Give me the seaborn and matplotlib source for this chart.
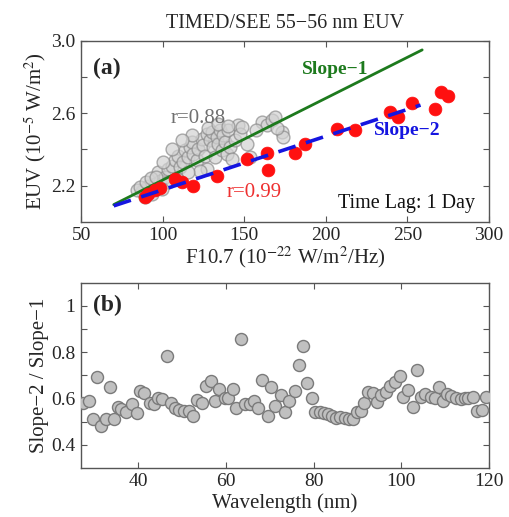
import matplotlib
matplotlib.use("Agg")
import matplotlib.pyplot as plt
import seaborn as sns
import pandas as pd
from matplotlib.ticker import FixedLocator

# ---------------- data: panel (a) ----------------
gray_f107 = [87.2, 91.3, 95.3, 97.4, 98.4, 101.5, 103.5, 105.6, 107.6, 109.6,
             110.7, 112.7, 113.7, 115.8, 116.8, 117.8, 118.8, 120.9, 121.9, 123.9,
             125.0, 126.0, 127.0, 129.0, 130.1, 131.1, 132.1, 133.1, 134.1, 135.2,
             136.2, 137.2, 138.2, 139.2, 140.3, 141.3, 142.3, 144.4, 146.4, 147.4,
             148.4, 151.5, 153.5, 160.7, 163.7, 166.8, 168.9, 172.9, 174.0, 127.0,
             122.9, 115.8, 108.6, 103.5, 93.3, 89.2, 99.4, 84.0, 86.0, 90.0,
             93.0, 96.0, 128.0, 134.0, 140.0, 118.0, 112.0, 106.0, 100.0, 157.0,
             170.0]
gray_euv = [2.172, 2.200, 2.209, 2.274, 2.228, 2.246, 2.292, 2.311, 2.339, 2.366,
            2.302, 2.329, 2.394, 2.357, 2.413, 2.440, 2.376, 2.339, 2.403, 2.459,
            2.422, 2.366, 2.487, 2.450, 2.496, 2.413, 2.357, 2.468, 2.431, 2.505,
            2.394, 2.478, 2.440, 2.376, 2.505, 2.413, 2.348, 2.450, 2.533, 2.487,
            2.524, 2.431, 2.357, 2.552, 2.533, 2.561, 2.579, 2.496, 2.468, 2.292,
            2.283, 2.274, 2.237, 2.218, 2.153, 2.135, 2.181, 2.175, 2.190, 2.220,
            2.240, 2.250, 2.520, 2.540, 2.530, 2.480, 2.450, 2.400, 2.330, 2.510,
            2.520]

red_f107 = [89.2, 91.3, 95.3, 98.4, 107.6, 111.7, 118.8, 133.1, 151.5, 163.8,
            164.8, 181.1, 187.3, 206.7, 217.9, 239.3, 244.4, 253.0, 266.9, 270.6,
            275.1]
red_euv = [2.135, 2.154, 2.176, 2.187, 2.237, 2.218, 2.200, 2.252, 2.348, 2.381,
           2.287, 2.381, 2.428, 2.511, 2.506, 2.607, 2.580, 2.654, 2.622, 2.718,
           2.694]

slope1_f107 = [70, 259]
slope1_euv = [2.095, 2.950]
slope2_f107 = [70, 258]
slope2_euv = [2.088, 2.645]

# ---------------- data: panel (b) ----------------
wavelength = [27.4, 28.9, 29.7, 30.6, 31.6, 32.6, 33.7, 34.6, 35.4, 36.1,
              37.3, 38.6, 39.8, 40.5, 41.4, 42.6, 43.7, 44.5, 45.5, 46.6,
              47.5, 48.5, 49.4, 50.4, 51.5, 52.6, 53.5, 54.6, 55.4, 56.7,
              57.6, 58.5, 59.7, 60.4, 61.6, 62.4, 63.5, 64.4, 65.4, 66.4,
              67.3, 68.3, 69.6, 70.3, 71.3, 72.5, 73.4, 74.5, 75.7, 76.6,
              77.6, 78.5, 79.6, 80.4, 81.4, 82.3, 83.3, 84.2, 85.2, 86.1,
              87.1, 88.0, 89.0, 89.9, 90.7, 91.6, 92.4, 93.5, 94.5, 95.4,
              96.6, 97.5, 98.5, 99.6, 100.4, 101.5, 102.6, 103.6, 104.4, 105.5,
              106.7, 107.6, 108.5, 109.5, 110.5, 111.4, 112.5, 113.5, 114.4, 115.3,
              116.3, 117.3, 118.4, 119.4]
ratio = [0.581, 0.590, 0.511, 0.692, 0.481, 0.511, 0.649, 0.511, 0.563, 0.556,
         0.541, 0.575, 0.536, 0.634, 0.622, 0.582, 0.575, 0.604, 0.596, 0.782,
         0.581, 0.560, 0.551, 0.548, 0.544, 0.526, 0.593, 0.581, 0.652, 0.674,
         0.588, 0.641, 0.600, 0.600, 0.640, 0.560, 0.859, 0.575, 0.578, 0.590,
         0.560, 0.679, 0.526, 0.649, 0.566, 0.615, 0.541, 0.590, 0.634, 0.744,
         0.827, 0.667, 0.600, 0.541, 0.541, 0.536, 0.533, 0.526, 0.515, 0.521,
         0.515, 0.511, 0.511, 0.541, 0.548, 0.581, 0.630, 0.625, 0.585, 0.615,
         0.630, 0.652, 0.670, 0.699, 0.607, 0.637, 0.563, 0.723, 0.607, 0.618,
         0.607, 0.604, 0.649, 0.590, 0.619, 0.610, 0.600, 0.596, 0.600, 0.604,
         0.607, 0.545, 0.551, 0.607]

a_xticks = [50, 100, 150, 200, 250, 300]
a_yticks = [2.2, 2.6, 3.0]
a_yminor = [2.4, 2.8]
b_xticks = [40, 60, 80, 100, 120]
b_yticks = [0.4, 0.6, 0.8, 1.0]
b_yticklabels = ["0.4", "0.6", "0.8", "1"]
b_yminor = [0.5, 0.7, 0.9]

# ---------------- style ----------------
sns.set_theme(style="ticks")
plt.rcParams['font.family'] = ['Liberation Serif', 'DejaVu Serif']
plt.rcParams['mathtext.fontset'] = 'stix'
plt.rcParams['axes.edgecolor'] = '#555555'
plt.rcParams['axes.linewidth'] = 1.0

fig = plt.figure(figsize=(5.1, 5.17), dpi=100)
ax1 = fig.add_axes([0.159, 0.571, 0.800, 0.350])
ax2 = fig.add_axes([0.159, 0.095, 0.800, 0.358])

df_gray = pd.DataFrame({"F": gray_f107, "E": gray_euv})
df_red = pd.DataFrame({"F": red_f107, "E": red_euv})
df_l1 = pd.DataFrame({"F": slope1_f107, "E": slope1_euv})
df_l2 = pd.DataFrame({"F": slope2_f107, "E": slope2_euv})

sns.scatterplot(data=df_gray, x="F", y="E", ax=ax1, s=85, color="#d2d2d2",
                edgecolor="#8a8a8a", linewidth=1.0, alpha=0.7, zorder=2)
sns.lineplot(data=df_l1, x="F", y="E", ax=ax1, color="#1d7a1d", linewidth=2.0,
             zorder=3)
sns.scatterplot(data=df_red, x="F", y="E", ax=ax1, s=85, color="#ff1010",
                edgecolor="#ff1010", linewidth=0.5, zorder=4)
sns.lineplot(data=df_l2, x="F", y="E", ax=ax1, color="#1515e0", linewidth=2.6,
             zorder=5)
ax1.lines[-1].set_dashes([5, 3])

ax1.set_xlim(50, 300)
ax1.set_ylim(2.0, 3.0)
ax1.set_xticks(a_xticks)
ax1.set_yticks(a_yticks)
ax1.set_yticklabels([f"{v:.1f}" for v in a_yticks])
ax1.yaxis.set_minor_locator(FixedLocator(a_yminor))
ax1.set_xlabel("F10.7 (10$^{-22}$ W/m$^2$/Hz)", fontsize=15, labelpad=0)
ax1.set_ylabel("EUV (10$^{-5}$ W/m$^2$)", fontsize=15, labelpad=2)
ax1.set_title("TIMED/SEE 55\u221256 nm EUV", fontsize=14.5, pad=9)

ax1.text(0.03, 0.85, "(a)", transform=ax1.transAxes, fontsize=17,
         fontweight="bold", ha="left", va="center")
ax1.text(206, 2.84, "Slope\u22121", color="#1d7a1d", fontsize=14,
         fontweight="bold", ha="center", va="center")
ax1.text(250, 2.505, "Slope\u22122", color="#1515e0", fontsize=14,
         fontweight="bold", ha="center", va="center")
ax1.text(122, 2.57, "r=0.88", color="#707070", fontsize=15, ha="center",
         va="center")
ax1.text(156, 2.16, "r=0.99", color="#ee3030", fontsize=15, ha="center",
         va="center")
ax1.text(0.965, 0.10, "Time Lag: 1 Day", transform=ax1.transAxes,
         color="#111111", fontsize=14.5, ha="right", va="center")

df_b = pd.DataFrame({"W": wavelength, "R": ratio})
sns.scatterplot(data=df_b, x="W", y="R", ax=ax2, s=75, color="#c0c0c0",
                edgecolor="#7a7a7a", linewidth=1.0, zorder=3)
ax2.set_xlim(27, 120)
ax2.set_ylim(0.3, 1.1)
ax2.set_xticks(b_xticks)
ax2.set_yticks(b_yticks)
ax2.set_yticklabels(b_yticklabels)
ax2.yaxis.set_minor_locator(FixedLocator(b_yminor))
ax2.set_xlabel("Wavelength (nm)", fontsize=15, labelpad=2)
ax2.set_ylabel("Slope\u22122 / Slope\u22121", fontsize=15, labelpad=2)
ax2.text(0.03, 0.88, "(b)", transform=ax2.transAxes, fontsize=17,
         fontweight="bold", ha="left", va="center")

for ax in (ax1, ax2):
    ax.tick_params(which="both", direction="in", top=True, right=True,
                   length=4, width=0.8, color="#555555", labelsize=14,
                   pad=4)
    for sp in ax.spines.values():
        sp.set_visible(True)
        sp.set_color("#555555")
    if ax.get_legend() is not None:
        ax.get_legend().remove()

fig.savefig("out.png", dpi=100)
